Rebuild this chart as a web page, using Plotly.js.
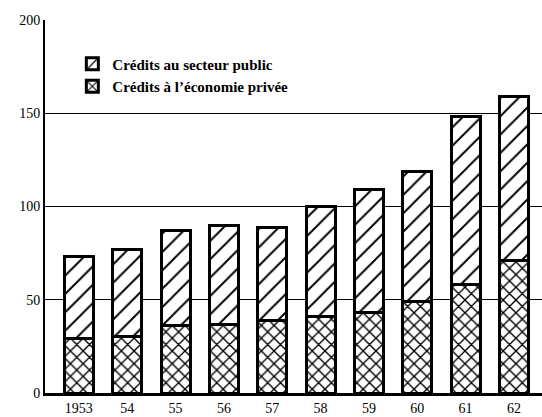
<!DOCTYPE html>
<html>
<head>
<meta charset="utf-8">
<script src="https://cdn.plot.ly/plotly-3.0.1.min.js"></script>
<style>html,body{margin:0;padding:0;background:#fff;}#chart{width:542px;height:417px;}</style>
</head>
<body>
<div id="chart"></div>
<script>
const years = ["1953", "54", "55", "56", "57", "58", "59", "60", "61", "62"];
const privee = [29, 30.5, 36, 37, 39, 41, 43, 49, 58, 71];
const publicSect = [44, 46.5, 51, 53, 49.5, 59, 66, 70, 90, 88];
const yTicks = [0, 50, 100, 150, 200];

const serif = "'Liberation Serif', 'Times New Roman', serif";
const traces = [
  {
    type: "bar", x: years, y: privee, name: "Crédits à l’économie privée",
    marker: {color: "#fff", line: {color: "#000", width: 3},
      pattern: {shape: "x", fgcolor: "#000", bgcolor: "#fff", size: 9, solidity: 0.28}},
    hoverinfo: "skip"
  },
  {
    type: "bar", x: years, y: publicSect, name: "Crédits au secteur public",
    marker: {color: "#fff", line: {color: "#000", width: 3},
      pattern: {shape: "/", fgcolor: "#000", bgcolor: "#fff", size: 13, solidity: 0.15}},
    hoverinfo: "skip"
  }
];
const layout = {
  width: 542, height: 417,
  margin: {l: 45, r: 0, t: 20, b: 24},
  paper_bgcolor: "#fff", plot_bgcolor: "#fff",
  barmode: "stack", bargap: 0.4,
  font: {family: serif, color: "#000", size: 14},
  xaxis: {
    type: "category", range: [-0.7, 9.58],
    showgrid: false, showline: true, linecolor: "#000", linewidth: 3,
    ticks: "", tickfont: {family: serif, size: 14, color: "#000"},
    fixedrange: true
  },
  yaxis: {
    range: [0, 200], tickvals: yTicks, ticktext: yTicks.map(String),
    showgrid: true, gridcolor: "#000", gridwidth: 1,
    showline: true, linecolor: "#000", linewidth: 2, mirror: true,
    zeroline: false, ticks: "", tickfont: {family: serif, size: 14, color: "#000"},
    fixedrange: true
  },
  legend: {
    x: 0.055, y: 0.926, xanchor: "left", yanchor: "top",
    bgcolor: "rgba(255,255,255,0)", borderwidth: 0,
    font: {family: serif, size: 15, color: "#000", weight: "bold"},
    tracegroupgap: 4, itemwidth: 30
  },
  showlegend: true
};
Plotly.newPlot("chart", traces, layout, {displayModeBar: false, staticPlot: true});
</script>
</body>
</html>
